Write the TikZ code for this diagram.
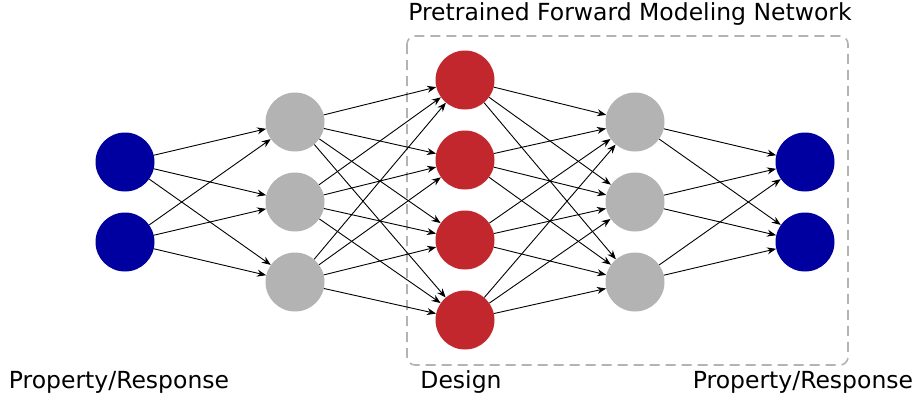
\documentclass[tikz,border=0pt]{standalone}
\usepackage{fontspec}
\setmainfont{DejaVu Sans}
\usetikzlibrary{arrows.meta}
\definecolor{inblue}{HTML}{0000A0}
\definecolor{hidgray}{HTML}{B3B3B3}
\definecolor{desred}{HTML}{C1272D}
\begin{document}
\begin{tikzpicture}[x=1pt,y=-1pt,
  neuron/.style={circle,minimum size=59pt,inner sep=0pt,draw=none},
  bluen/.style={neuron,fill=inblue},
  grayn/.style={neuron,fill=hidgray},
  redn/.style={neuron,fill=desred},
  link/.style={line width=0.9pt,-{Stealth[length=9pt,width=7pt]}},
  lbl/.style={font=\fontsize{23.5}{27}\selectfont,inner sep=0pt}]
\useasboundingbox (0,0) rectangle (915,400);
% frame around the pretrained part
\draw[hidgray,line width=1.6pt,dash pattern=on 10pt off 6pt,rounded corners=8pt]
  (407,36) rectangle (848,365);
% layers
\node[bluen] (a1) at (125,162) {};
\node[bluen] (a2) at (125,242) {};
\node[grayn] (b1) at (295,122) {};
\node[grayn] (b2) at (295,202) {};
\node[grayn] (b3) at (295,282) {};
\node[redn] (c1) at (465,80) {};
\node[redn] (c2) at (465,160) {};
\node[redn] (c3) at (465,240) {};
\node[redn] (c4) at (465,320) {};
\node[grayn] (d1) at (635,122) {};
\node[grayn] (d2) at (635,202) {};
\node[grayn] (d3) at (635,282) {};
\node[bluen] (e1) at (805,162) {};
\node[bluen] (e2) at (805,242) {};
% fully connected links
\foreach \s in {a1,a2} \foreach \t in {b1,b2,b3} \draw[link] (\s) -- (\t);
\foreach \s in {b1,b2,b3} \foreach \t in {c1,c2,c3,c4} \draw[link] (\s) -- (\t);
\foreach \s in {c1,c2,c3,c4} \foreach \t in {d1,d2,d3} \draw[link] (\s) -- (\t);
\foreach \s in {d1,d2,d3} \foreach \t in {e1,e2} \draw[link] (\s) -- (\t);
% labels
\node[lbl] (title) at (630,14) {Pretrained Forward Modeling Network};
\node[lbl] (lin) at (119,382) {Property/Response};
\node[lbl] (ldes) at (461,382) {Design};
\node[lbl] (lout) at (803,382) {Property/Response};
\end{tikzpicture}
\end{document}
